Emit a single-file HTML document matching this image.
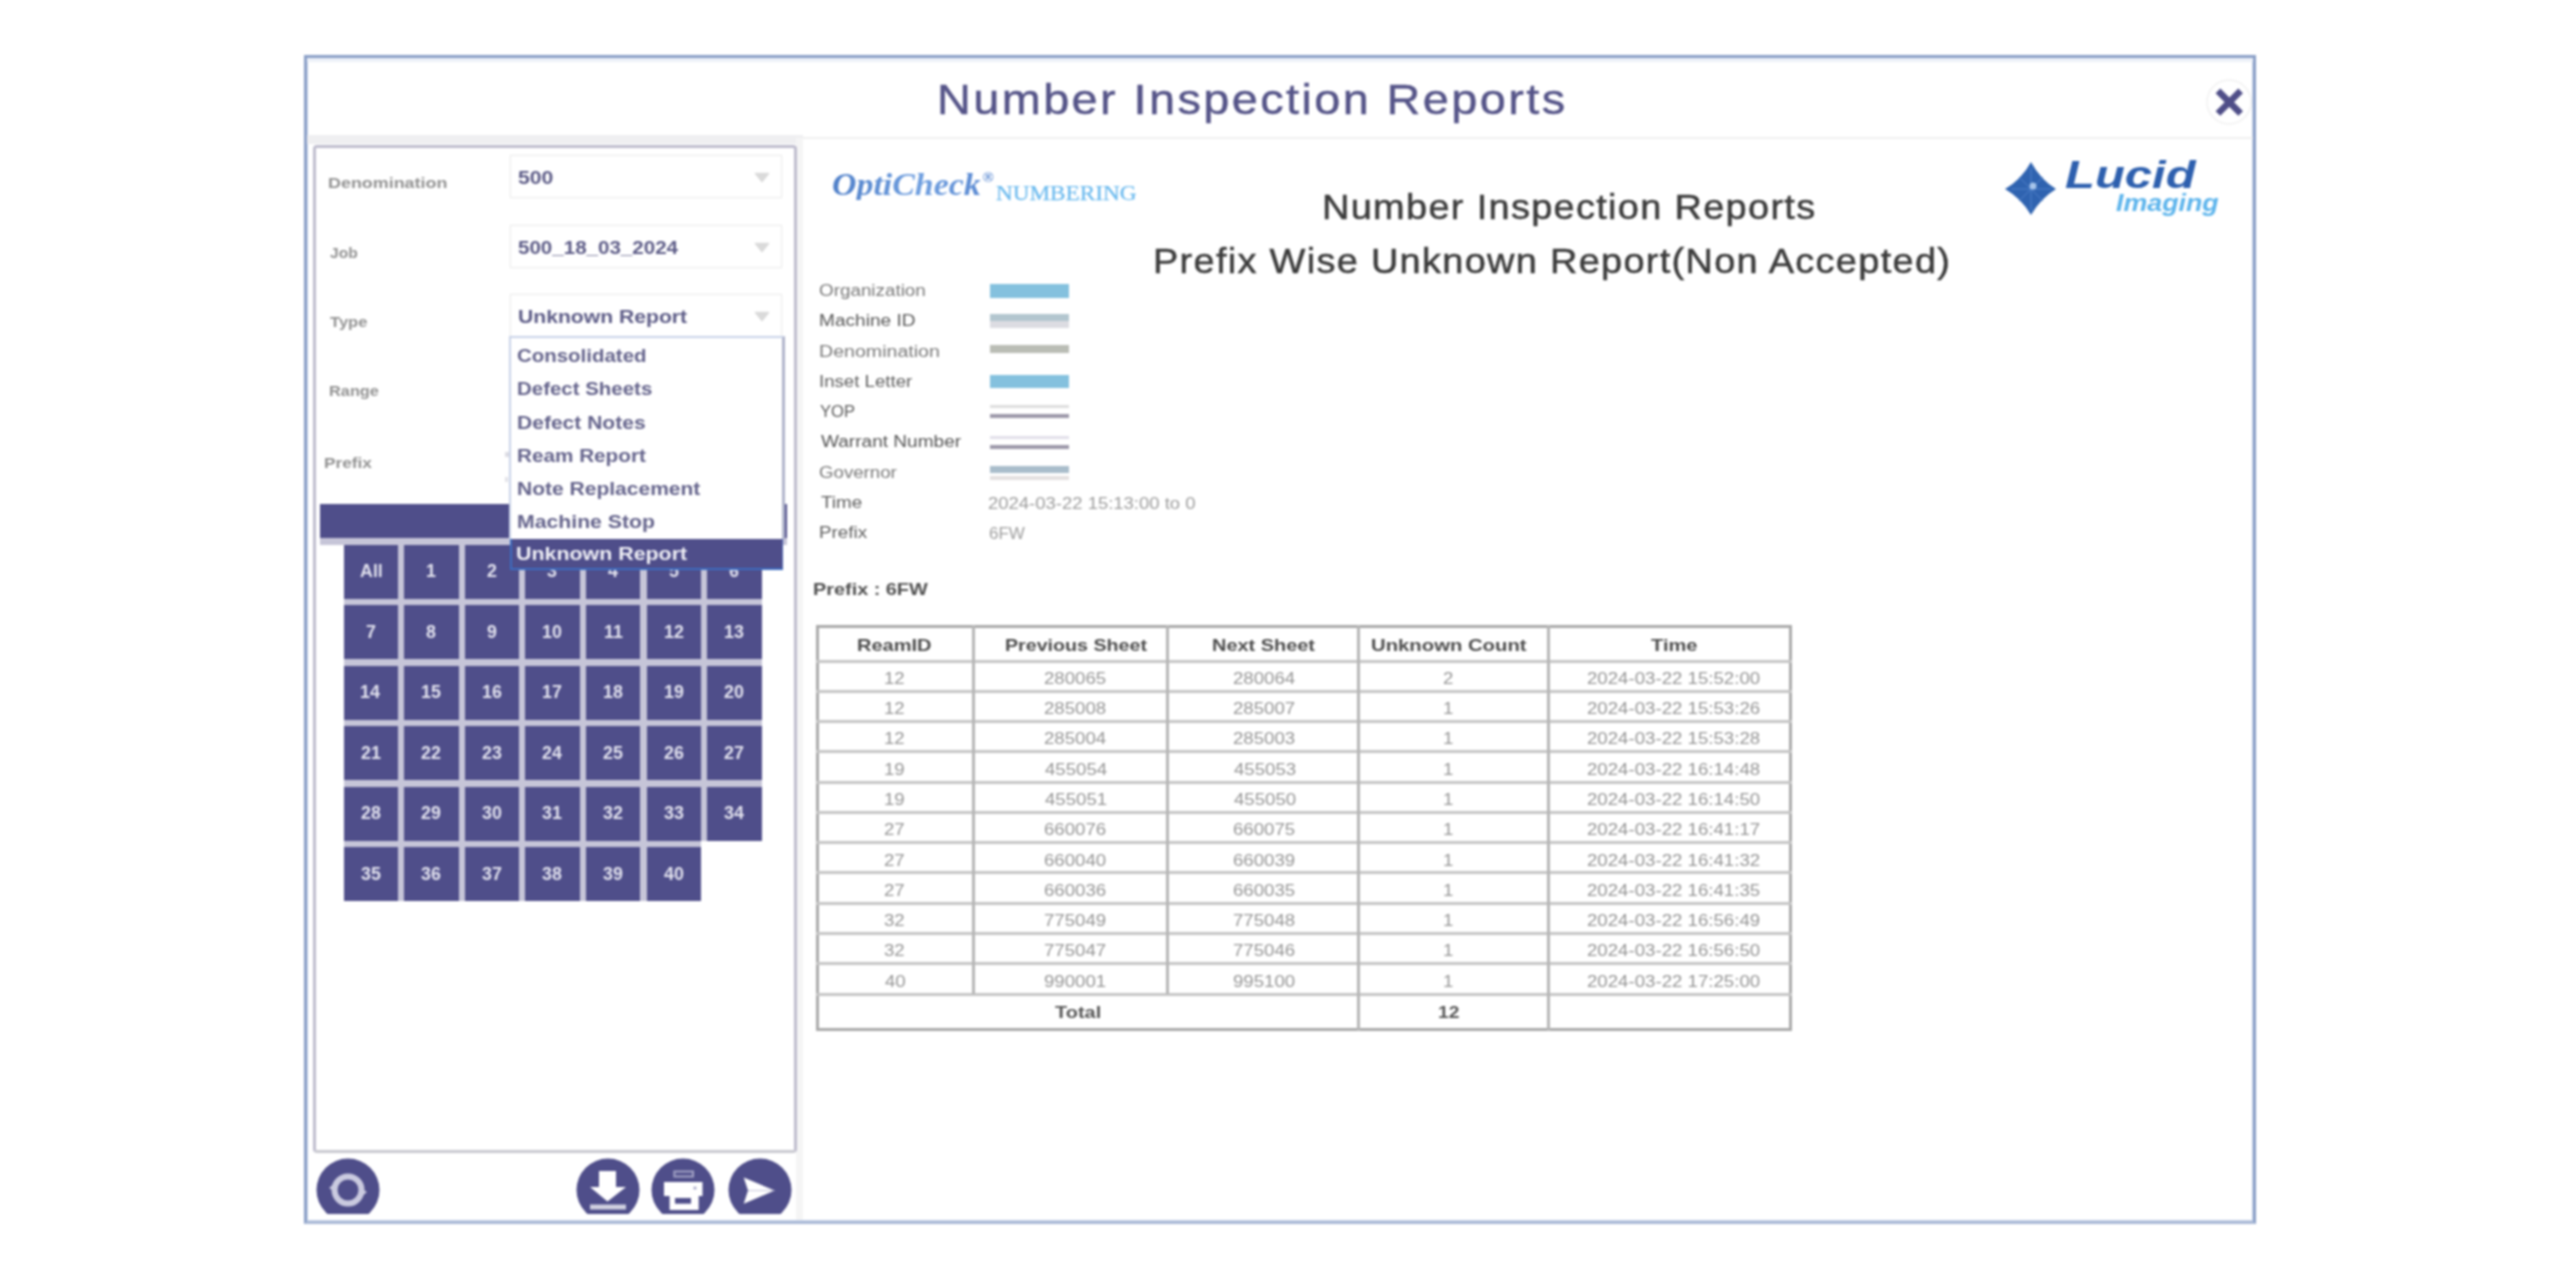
<!DOCTYPE html>
<html><head><meta charset="utf-8"><title>Number Inspection Reports</title>
<style>
html,body{margin:0;padding:0;background:#fff;width:2560px;height:1280px;overflow:hidden;font-family:"Liberation Sans",sans-serif;}
.t{position:absolute;white-space:nowrap;}
.r{position:absolute;box-sizing:border-box;}
svg{position:absolute;}
</style></head><body><div id="pg" style="position:absolute;left:0;top:0;width:2560px;height:1280px;filter:blur(1px);">
<div class="r" style="left:304px;top:55px;width:1952px;height:1169px;border:3.5px solid #8a9fc7;border-bottom-color:#aab9d6;box-shadow:inset 0 0 0 1px #c8d4ea;background:#fff;"></div>
<div class="r" style="left:307px;top:58px;width:1946px;height:4px;background:#edf1f8;"></div>
<div class="r" style="left:307px;top:136.5px;width:1946px;height:2px;background:#efefef;"></div>
<div class="r" style="left:307px;top:135px;width:496px;height:9px;background:#efeff1;"></div>
<div class="r" style="left:796px;top:138px;width:7px;height:1082px;background:#f5f5f5;"></div>
<div class="t" style="left:937.2px;top:77.6px;font-size:43px;line-height:43px;color:#555488;font-weight:normal;font-family:'Liberation Sans',sans-serif;font-style:normal;letter-spacing:2.2px;transform:scaleX(1.0900);transform-origin:0 0;-webkit-text-stroke:0.45px #555488;">Number Inspection Reports</div>
<svg style="left:2203px;top:76px" width="52" height="52" viewBox="0 0 52 52"><circle cx="26" cy="26" r="22" fill="none" stroke="#f1f1f1" stroke-width="1.5"/><path d="M17.3 17.2 L35.3 35.2 M35.3 17.2 L17.3 35.2" stroke="#4f4e88" stroke-width="6.6" stroke-linecap="square"/></svg>
<div class="r" style="left:313px;top:144.5px;width:483.5px;height:1008.5px;border:3.5px solid #bfbdce;border-bottom-color:#c9c9d0;border-radius:4px;background:#fff;"></div>
<div class="t" style="left:327.8px;top:175.3px;font-size:15px;line-height:15px;color:#929292;font-weight:bold;font-family:'Liberation Sans',sans-serif;font-style:normal;letter-spacing:0px;transform:scaleX(1.1939);transform-origin:0 0;">Denomination</div>
<div class="t" style="left:329.5px;top:245.3px;font-size:15px;line-height:15px;color:#929292;font-weight:bold;font-family:'Liberation Sans',sans-serif;font-style:normal;letter-spacing:0px;transform:scaleX(1.0385);transform-origin:0 0;">Job</div>
<div class="t" style="left:330.0px;top:314.3px;font-size:15px;line-height:15px;color:#929292;font-weight:bold;font-family:'Liberation Sans',sans-serif;font-style:normal;letter-spacing:0px;transform:scaleX(1.1029);transform-origin:0 0;">Type</div>
<div class="t" style="left:328.9px;top:383.3px;font-size:15px;line-height:15px;color:#929292;font-weight:bold;font-family:'Liberation Sans',sans-serif;font-style:normal;letter-spacing:0px;transform:scaleX(1.0889);transform-origin:0 0;">Range</div>
<div class="t" style="left:323.9px;top:455.3px;font-size:15px;line-height:15px;color:#929292;font-weight:bold;font-family:'Liberation Sans',sans-serif;font-style:normal;letter-spacing:0px;transform:scaleX(1.1500);transform-origin:0 0;">Prefix</div>
<div class="r" style="left:510px;top:155px;width:272px;height:43px;border:1px solid #ededed;background:#fff;box-shadow:0 0 2px #f3f3f3;"></div>
<div class="t" style="left:517.9px;top:167.9px;font-size:19px;line-height:19px;color:#5c5b86;font-weight:bold;font-family:'Liberation Sans',sans-serif;font-style:normal;letter-spacing:0px;transform:scaleX(1.1167);transform-origin:0 0;">500</div>
<svg style="left:754px;top:172px" width="16" height="11" viewBox="0 0 16 11"><path d="M1.5 1.5 L14.5 1.5 L8 9.5 Z" fill="#dadada" stroke="#dadada" stroke-width="1.5" stroke-linejoin="round"/></svg>
<div class="r" style="left:510px;top:225px;width:272px;height:43px;border:1px solid #ededed;background:#fff;box-shadow:0 0 2px #f3f3f3;"></div>
<div class="t" style="left:517.9px;top:237.9px;font-size:19px;line-height:19px;color:#5c5b86;font-weight:bold;font-family:'Liberation Sans',sans-serif;font-style:normal;letter-spacing:0px;transform:scaleX(1.0816);transform-origin:0 0;">500_18_03_2024</div>
<svg style="left:754px;top:242px" width="16" height="11" viewBox="0 0 16 11"><path d="M1.5 1.5 L14.5 1.5 L8 9.5 Z" fill="#dadada" stroke="#dadada" stroke-width="1.5" stroke-linejoin="round"/></svg>
<div class="r" style="left:510px;top:294px;width:272px;height:43px;border:1px solid #ededed;background:#fff;box-shadow:0 0 2px #f3f3f3;"></div>
<div class="t" style="left:517.9px;top:306.9px;font-size:19px;line-height:19px;color:#5c5b86;font-weight:bold;font-family:'Liberation Sans',sans-serif;font-style:normal;letter-spacing:0px;transform:scaleX(1.1126);transform-origin:0 0;">Unknown Report</div>
<svg style="left:754px;top:311px" width="16" height="11" viewBox="0 0 16 11"><path d="M1.5 1.5 L14.5 1.5 L8 9.5 Z" fill="#dadada" stroke="#dadada" stroke-width="1.5" stroke-linejoin="round"/></svg>
<div class="r" style="left:505px;top:452px;width:4px;height:5px;background:#dcdce4;"></div>
<div class="r" style="left:505px;top:477px;width:3px;height:5px;background:#e2e2e8;"></div>
<div class="r" style="left:320px;top:504px;width:467px;height:34px;background:#4f4e8a;"></div>
<div class="r" style="left:320px;top:538px;width:467px;height:6.5px;background:#c6c5d8;"></div>
<div class="r" style="left:343.5px;top:538px;width:418.1px;height:302.70000000000005px;background:#c6c5d8;"></div>
<div class="r" style="left:343.5px;top:839.7px;width:357.5px;height:61.55px;background:#c6c5d8;"></div>
<div class="r" style="left:343.5px;top:544.5px;width:54.5px;height:54px;background:#4f4e8a;"></div>
<div class="t" style="left:359.5px;top:563.2px;font-size:17.5px;line-height:17.5px;color:#e2e2ee;font-weight:bold;font-family:'Liberation Sans',sans-serif;font-style:normal;letter-spacing:0px;transform:scaleX(1.0200);transform-origin:0 0;">All</div>
<div class="r" style="left:404.1px;top:544.5px;width:54.5px;height:54px;background:#4f4e8a;"></div>
<div class="t" style="left:426.2px;top:563.2px;font-size:17.5px;line-height:17.5px;color:#e2e2ee;font-weight:bold;font-family:'Liberation Sans',sans-serif;font-style:normal;letter-spacing:0px;transform:scaleX(1.0200);transform-origin:0 0;">1</div>
<div class="r" style="left:464.7px;top:544.5px;width:54.5px;height:54px;background:#4f4e8a;"></div>
<div class="t" style="left:486.8px;top:563.2px;font-size:17.5px;line-height:17.5px;color:#e2e2ee;font-weight:bold;font-family:'Liberation Sans',sans-serif;font-style:normal;letter-spacing:0px;transform:scaleX(1.0200);transform-origin:0 0;">2</div>
<div class="r" style="left:525.3px;top:544.5px;width:54.5px;height:54px;background:#4f4e8a;"></div>
<div class="t" style="left:547.4px;top:563.2px;font-size:17.5px;line-height:17.5px;color:#e2e2ee;font-weight:bold;font-family:'Liberation Sans',sans-serif;font-style:normal;letter-spacing:0px;transform:scaleX(1.0200);transform-origin:0 0;">3</div>
<div class="r" style="left:585.9px;top:544.5px;width:54.5px;height:54px;background:#4f4e8a;"></div>
<div class="t" style="left:608.0px;top:563.2px;font-size:17.5px;line-height:17.5px;color:#e2e2ee;font-weight:bold;font-family:'Liberation Sans',sans-serif;font-style:normal;letter-spacing:0px;transform:scaleX(1.0200);transform-origin:0 0;">4</div>
<div class="r" style="left:646.5px;top:544.5px;width:54.5px;height:54px;background:#4f4e8a;"></div>
<div class="t" style="left:668.6px;top:563.2px;font-size:17.5px;line-height:17.5px;color:#e2e2ee;font-weight:bold;font-family:'Liberation Sans',sans-serif;font-style:normal;letter-spacing:0px;transform:scaleX(1.0200);transform-origin:0 0;">5</div>
<div class="r" style="left:707.1px;top:544.5px;width:54.5px;height:54px;background:#4f4e8a;"></div>
<div class="t" style="left:729.2px;top:563.2px;font-size:17.5px;line-height:17.5px;color:#e2e2ee;font-weight:bold;font-family:'Liberation Sans',sans-serif;font-style:normal;letter-spacing:0px;transform:scaleX(1.0200);transform-origin:0 0;">6</div>
<div class="r" style="left:343.5px;top:605.0px;width:54.5px;height:54px;background:#4f4e8a;"></div>
<div class="t" style="left:365.6px;top:623.7px;font-size:17.5px;line-height:17.5px;color:#e2e2ee;font-weight:bold;font-family:'Liberation Sans',sans-serif;font-style:normal;letter-spacing:0px;transform:scaleX(1.0200);transform-origin:0 0;">7</div>
<div class="r" style="left:404.1px;top:605.0px;width:54.5px;height:54px;background:#4f4e8a;"></div>
<div class="t" style="left:426.2px;top:623.7px;font-size:17.5px;line-height:17.5px;color:#e2e2ee;font-weight:bold;font-family:'Liberation Sans',sans-serif;font-style:normal;letter-spacing:0px;transform:scaleX(1.0200);transform-origin:0 0;">8</div>
<div class="r" style="left:464.7px;top:605.0px;width:54.5px;height:54px;background:#4f4e8a;"></div>
<div class="t" style="left:486.8px;top:623.7px;font-size:17.5px;line-height:17.5px;color:#e2e2ee;font-weight:bold;font-family:'Liberation Sans',sans-serif;font-style:normal;letter-spacing:0px;transform:scaleX(1.0200);transform-origin:0 0;">9</div>
<div class="r" style="left:525.3px;top:605.0px;width:54.5px;height:54px;background:#4f4e8a;"></div>
<div class="t" style="left:542.3px;top:623.7px;font-size:17.5px;line-height:17.5px;color:#e2e2ee;font-weight:bold;font-family:'Liberation Sans',sans-serif;font-style:normal;letter-spacing:0px;transform:scaleX(1.0200);transform-origin:0 0;">10</div>
<div class="r" style="left:585.9px;top:605.0px;width:54.5px;height:54px;background:#4f4e8a;"></div>
<div class="t" style="left:603.5px;top:623.7px;font-size:17.5px;line-height:17.5px;color:#e2e2ee;font-weight:bold;font-family:'Liberation Sans',sans-serif;font-style:normal;letter-spacing:0px;transform:scaleX(1.0200);transform-origin:0 0;">11</div>
<div class="r" style="left:646.5px;top:605.0px;width:54.5px;height:54px;background:#4f4e8a;"></div>
<div class="t" style="left:663.5px;top:623.7px;font-size:17.5px;line-height:17.5px;color:#e2e2ee;font-weight:bold;font-family:'Liberation Sans',sans-serif;font-style:normal;letter-spacing:0px;transform:scaleX(1.0200);transform-origin:0 0;">12</div>
<div class="r" style="left:707.1px;top:605.0px;width:54.5px;height:54px;background:#4f4e8a;"></div>
<div class="t" style="left:724.1px;top:623.7px;font-size:17.5px;line-height:17.5px;color:#e2e2ee;font-weight:bold;font-family:'Liberation Sans',sans-serif;font-style:normal;letter-spacing:0px;transform:scaleX(1.0200);transform-origin:0 0;">13</div>
<div class="r" style="left:343.5px;top:665.6px;width:54.5px;height:54px;background:#4f4e8a;"></div>
<div class="t" style="left:360.0px;top:684.3px;font-size:17.5px;line-height:17.5px;color:#e2e2ee;font-weight:bold;font-family:'Liberation Sans',sans-serif;font-style:normal;letter-spacing:0px;transform:scaleX(1.0200);transform-origin:0 0;">14</div>
<div class="r" style="left:404.1px;top:665.6px;width:54.5px;height:54px;background:#4f4e8a;"></div>
<div class="t" style="left:421.2px;top:684.3px;font-size:17.5px;line-height:17.5px;color:#e2e2ee;font-weight:bold;font-family:'Liberation Sans',sans-serif;font-style:normal;letter-spacing:0px;transform:scaleX(1.0200);transform-origin:0 0;">15</div>
<div class="r" style="left:464.7px;top:665.6px;width:54.5px;height:54px;background:#4f4e8a;"></div>
<div class="t" style="left:481.8px;top:684.3px;font-size:17.5px;line-height:17.5px;color:#e2e2ee;font-weight:bold;font-family:'Liberation Sans',sans-serif;font-style:normal;letter-spacing:0px;transform:scaleX(1.0200);transform-origin:0 0;">16</div>
<div class="r" style="left:525.3px;top:665.6px;width:54.5px;height:54px;background:#4f4e8a;"></div>
<div class="t" style="left:542.3px;top:684.3px;font-size:17.5px;line-height:17.5px;color:#e2e2ee;font-weight:bold;font-family:'Liberation Sans',sans-serif;font-style:normal;letter-spacing:0px;transform:scaleX(1.0200);transform-origin:0 0;">17</div>
<div class="r" style="left:585.9px;top:665.6px;width:54.5px;height:54px;background:#4f4e8a;"></div>
<div class="t" style="left:602.9px;top:684.3px;font-size:17.5px;line-height:17.5px;color:#e2e2ee;font-weight:bold;font-family:'Liberation Sans',sans-serif;font-style:normal;letter-spacing:0px;transform:scaleX(1.0200);transform-origin:0 0;">18</div>
<div class="r" style="left:646.5px;top:665.6px;width:54.5px;height:54px;background:#4f4e8a;"></div>
<div class="t" style="left:663.5px;top:684.3px;font-size:17.5px;line-height:17.5px;color:#e2e2ee;font-weight:bold;font-family:'Liberation Sans',sans-serif;font-style:normal;letter-spacing:0px;transform:scaleX(1.0200);transform-origin:0 0;">19</div>
<div class="r" style="left:707.1px;top:665.6px;width:54.5px;height:54px;background:#4f4e8a;"></div>
<div class="t" style="left:724.1px;top:684.3px;font-size:17.5px;line-height:17.5px;color:#e2e2ee;font-weight:bold;font-family:'Liberation Sans',sans-serif;font-style:normal;letter-spacing:0px;transform:scaleX(1.0200);transform-origin:0 0;">20</div>
<div class="r" style="left:343.5px;top:726.1px;width:54.5px;height:54px;background:#4f4e8a;"></div>
<div class="t" style="left:360.6px;top:744.8px;font-size:17.5px;line-height:17.5px;color:#e2e2ee;font-weight:bold;font-family:'Liberation Sans',sans-serif;font-style:normal;letter-spacing:0px;transform:scaleX(1.0200);transform-origin:0 0;">21</div>
<div class="r" style="left:404.1px;top:726.1px;width:54.5px;height:54px;background:#4f4e8a;"></div>
<div class="t" style="left:421.2px;top:744.8px;font-size:17.5px;line-height:17.5px;color:#e2e2ee;font-weight:bold;font-family:'Liberation Sans',sans-serif;font-style:normal;letter-spacing:0px;transform:scaleX(1.0200);transform-origin:0 0;">22</div>
<div class="r" style="left:464.7px;top:726.1px;width:54.5px;height:54px;background:#4f4e8a;"></div>
<div class="t" style="left:481.8px;top:744.8px;font-size:17.5px;line-height:17.5px;color:#e2e2ee;font-weight:bold;font-family:'Liberation Sans',sans-serif;font-style:normal;letter-spacing:0px;transform:scaleX(1.0200);transform-origin:0 0;">23</div>
<div class="r" style="left:525.3px;top:726.1px;width:54.5px;height:54px;background:#4f4e8a;"></div>
<div class="t" style="left:541.8px;top:744.8px;font-size:17.5px;line-height:17.5px;color:#e2e2ee;font-weight:bold;font-family:'Liberation Sans',sans-serif;font-style:normal;letter-spacing:0px;transform:scaleX(1.0200);transform-origin:0 0;">24</div>
<div class="r" style="left:585.9px;top:726.1px;width:54.5px;height:54px;background:#4f4e8a;"></div>
<div class="t" style="left:602.9px;top:744.8px;font-size:17.5px;line-height:17.5px;color:#e2e2ee;font-weight:bold;font-family:'Liberation Sans',sans-serif;font-style:normal;letter-spacing:0px;transform:scaleX(1.0200);transform-origin:0 0;">25</div>
<div class="r" style="left:646.5px;top:726.1px;width:54.5px;height:54px;background:#4f4e8a;"></div>
<div class="t" style="left:663.5px;top:744.8px;font-size:17.5px;line-height:17.5px;color:#e2e2ee;font-weight:bold;font-family:'Liberation Sans',sans-serif;font-style:normal;letter-spacing:0px;transform:scaleX(1.0200);transform-origin:0 0;">26</div>
<div class="r" style="left:707.1px;top:726.1px;width:54.5px;height:54px;background:#4f4e8a;"></div>
<div class="t" style="left:724.1px;top:744.8px;font-size:17.5px;line-height:17.5px;color:#e2e2ee;font-weight:bold;font-family:'Liberation Sans',sans-serif;font-style:normal;letter-spacing:0px;transform:scaleX(1.0200);transform-origin:0 0;">27</div>
<div class="r" style="left:343.5px;top:786.7px;width:54.5px;height:54px;background:#4f4e8a;"></div>
<div class="t" style="left:360.6px;top:805.4px;font-size:17.5px;line-height:17.5px;color:#e2e2ee;font-weight:bold;font-family:'Liberation Sans',sans-serif;font-style:normal;letter-spacing:0px;transform:scaleX(1.0200);transform-origin:0 0;">28</div>
<div class="r" style="left:404.1px;top:786.7px;width:54.5px;height:54px;background:#4f4e8a;"></div>
<div class="t" style="left:421.2px;top:805.4px;font-size:17.5px;line-height:17.5px;color:#e2e2ee;font-weight:bold;font-family:'Liberation Sans',sans-serif;font-style:normal;letter-spacing:0px;transform:scaleX(1.0200);transform-origin:0 0;">29</div>
<div class="r" style="left:464.7px;top:786.7px;width:54.5px;height:54px;background:#4f4e8a;"></div>
<div class="t" style="left:481.8px;top:805.4px;font-size:17.5px;line-height:17.5px;color:#e2e2ee;font-weight:bold;font-family:'Liberation Sans',sans-serif;font-style:normal;letter-spacing:0px;transform:scaleX(1.0200);transform-origin:0 0;">30</div>
<div class="r" style="left:525.3px;top:786.7px;width:54.5px;height:54px;background:#4f4e8a;"></div>
<div class="t" style="left:542.3px;top:805.4px;font-size:17.5px;line-height:17.5px;color:#e2e2ee;font-weight:bold;font-family:'Liberation Sans',sans-serif;font-style:normal;letter-spacing:0px;transform:scaleX(1.0200);transform-origin:0 0;">31</div>
<div class="r" style="left:585.9px;top:786.7px;width:54.5px;height:54px;background:#4f4e8a;"></div>
<div class="t" style="left:602.9px;top:805.4px;font-size:17.5px;line-height:17.5px;color:#e2e2ee;font-weight:bold;font-family:'Liberation Sans',sans-serif;font-style:normal;letter-spacing:0px;transform:scaleX(1.0200);transform-origin:0 0;">32</div>
<div class="r" style="left:646.5px;top:786.7px;width:54.5px;height:54px;background:#4f4e8a;"></div>
<div class="t" style="left:663.5px;top:805.4px;font-size:17.5px;line-height:17.5px;color:#e2e2ee;font-weight:bold;font-family:'Liberation Sans',sans-serif;font-style:normal;letter-spacing:0px;transform:scaleX(1.0200);transform-origin:0 0;">33</div>
<div class="r" style="left:707.1px;top:786.7px;width:54.5px;height:54px;background:#4f4e8a;"></div>
<div class="t" style="left:723.6px;top:805.4px;font-size:17.5px;line-height:17.5px;color:#e2e2ee;font-weight:bold;font-family:'Liberation Sans',sans-serif;font-style:normal;letter-spacing:0px;transform:scaleX(1.0200);transform-origin:0 0;">34</div>
<div class="r" style="left:343.5px;top:847.2px;width:54.5px;height:54px;background:#4f4e8a;"></div>
<div class="t" style="left:360.6px;top:865.9px;font-size:17.5px;line-height:17.5px;color:#e2e2ee;font-weight:bold;font-family:'Liberation Sans',sans-serif;font-style:normal;letter-spacing:0px;transform:scaleX(1.0200);transform-origin:0 0;">35</div>
<div class="r" style="left:404.1px;top:847.2px;width:54.5px;height:54px;background:#4f4e8a;"></div>
<div class="t" style="left:421.2px;top:865.9px;font-size:17.5px;line-height:17.5px;color:#e2e2ee;font-weight:bold;font-family:'Liberation Sans',sans-serif;font-style:normal;letter-spacing:0px;transform:scaleX(1.0200);transform-origin:0 0;">36</div>
<div class="r" style="left:464.7px;top:847.2px;width:54.5px;height:54px;background:#4f4e8a;"></div>
<div class="t" style="left:481.8px;top:865.9px;font-size:17.5px;line-height:17.5px;color:#e2e2ee;font-weight:bold;font-family:'Liberation Sans',sans-serif;font-style:normal;letter-spacing:0px;transform:scaleX(1.0200);transform-origin:0 0;">37</div>
<div class="r" style="left:525.3px;top:847.2px;width:54.5px;height:54px;background:#4f4e8a;"></div>
<div class="t" style="left:542.3px;top:865.9px;font-size:17.5px;line-height:17.5px;color:#e2e2ee;font-weight:bold;font-family:'Liberation Sans',sans-serif;font-style:normal;letter-spacing:0px;transform:scaleX(1.0200);transform-origin:0 0;">38</div>
<div class="r" style="left:585.9px;top:847.2px;width:54.5px;height:54px;background:#4f4e8a;"></div>
<div class="t" style="left:602.9px;top:865.9px;font-size:17.5px;line-height:17.5px;color:#e2e2ee;font-weight:bold;font-family:'Liberation Sans',sans-serif;font-style:normal;letter-spacing:0px;transform:scaleX(1.0200);transform-origin:0 0;">39</div>
<div class="r" style="left:646.5px;top:847.2px;width:54.5px;height:54px;background:#4f4e8a;"></div>
<div class="t" style="left:664.1px;top:865.9px;font-size:17.5px;line-height:17.5px;color:#e2e2ee;font-weight:bold;font-family:'Liberation Sans',sans-serif;font-style:normal;letter-spacing:0px;transform:scaleX(1.0200);transform-origin:0 0;">40</div>
<div class="r" style="left:509px;top:336px;width:276px;height:203px;border:2px solid #c9d3e8;border-right:3px solid #b0b4ca;border-bottom:none;background:#fff;"></div>
<div class="t" style="left:516.9px;top:346.1px;font-size:19px;line-height:19px;color:#64638b;font-weight:bold;font-family:'Liberation Sans',sans-serif;font-style:normal;letter-spacing:0px;transform:scaleX(1.0763);transform-origin:0 0;">Consolidated</div>
<div class="t" style="left:516.9px;top:379.3px;font-size:19px;line-height:19px;color:#64638b;font-weight:bold;font-family:'Liberation Sans',sans-serif;font-style:normal;letter-spacing:0px;transform:scaleX(1.0766);transform-origin:0 0;">Defect Sheets</div>
<div class="t" style="left:516.9px;top:412.5px;font-size:19px;line-height:19px;color:#64638b;font-weight:bold;font-family:'Liberation Sans',sans-serif;font-style:normal;letter-spacing:0px;transform:scaleX(1.1075);transform-origin:0 0;">Defect Notes</div>
<div class="t" style="left:516.9px;top:445.7px;font-size:19px;line-height:19px;color:#64638b;font-weight:bold;font-family:'Liberation Sans',sans-serif;font-style:normal;letter-spacing:0px;transform:scaleX(1.0897);transform-origin:0 0;">Ream Report</div>
<div class="t" style="left:516.9px;top:478.9px;font-size:19px;line-height:19px;color:#64638b;font-weight:bold;font-family:'Liberation Sans',sans-serif;font-style:normal;letter-spacing:0px;transform:scaleX(1.1061);transform-origin:0 0;">Note Replacement</div>
<div class="t" style="left:516.9px;top:512.1px;font-size:19px;line-height:19px;color:#64638b;font-weight:bold;font-family:'Liberation Sans',sans-serif;font-style:normal;letter-spacing:0px;transform:scaleX(1.1168);transform-origin:0 0;">Machine Stop</div>
<div class="r" style="left:509.5px;top:538.5px;width:273px;height:31px;background:#4f4e8a;border-left:2px solid #3d6cc0;border-bottom:2.5px solid #3d6cc0;border-right:1px solid #4a62b0;"></div>
<div class="t" style="left:515.9px;top:544.4px;font-size:19px;line-height:19px;color:#f0f0f6;font-weight:bold;font-family:'Liberation Sans',sans-serif;font-style:normal;letter-spacing:0px;transform:scaleX(1.1258);transform-origin:0 0;">Unknown Report</div>
<svg style="left:316px;top:1158px" width="64" height="58" viewBox="0 0 64 58"><clipPath id="c348"><rect x="0" y="0" width="64" height="56"/></clipPath><circle cx="32" cy="32" r="31.5" fill="#4f4e8a" clip-path="url(#c348)"/><circle cx="32" cy="32" r="13.5" fill="none" stroke="#cacadf" stroke-width="6"/><path d="M13 30 L20 24 L21 35 Z" fill="#cacadf"/><path d="M51 34 L44 40 L43 29 Z" fill="#cacadf"/></svg>
<svg style="left:576px;top:1158px" width="64" height="58" viewBox="0 0 64 58"><clipPath id="c608"><rect x="0" y="0" width="64" height="56"/></clipPath><circle cx="32" cy="32" r="31.5" fill="#4f4e8a" clip-path="url(#c608)"/><path d="M23 13 H40 V29 H50 L31.5 43.5 L14 29 H23 Z" fill="#fff"/><rect x="14" y="46.5" width="36" height="5" fill="#d0d0e0"/></svg>
<svg style="left:651px;top:1158px" width="64" height="58" viewBox="0 0 64 58"><clipPath id="c683"><rect x="0" y="0" width="64" height="56"/></clipPath><circle cx="32" cy="32" r="31.5" fill="#4f4e8a" clip-path="url(#c683)"/><rect x="23.4" y="13.5" width="18.6" height="5" fill="none" stroke="#a4a4c6" stroke-width="2"/><path d="M13 24 H51.5 V38 H47.7 V52 H18.6 V38 H13 Z" fill="#fff"/><rect x="24" y="40" width="16" height="5.7" fill="#4f4e8a"/><circle cx="44" cy="30" r="1.6" fill="#a4a4c6"/></svg>
<svg style="left:728px;top:1158px" width="64" height="58" viewBox="0 0 64 58"><clipPath id="c760"><rect x="0" y="0" width="64" height="56"/></clipPath><circle cx="32" cy="32" r="31.5" fill="#4f4e8a" clip-path="url(#c760)"/><path d="M15.7 19.5 L46.6 32.5 L15.7 45.7 L20 32.5 Z" fill="#fff"/><path d="M20 32.5 L46.6 32.5" stroke="#c8c8dc" stroke-width="1"/></svg>
<div class="t" style="left:831.9px;top:168.5px;font-size:31px;line-height:31px;color:#5b8ad2;font-weight:bold;font-family:'Liberation Serif',sans-serif;font-style:italic;letter-spacing:0px;transform:scaleX(1.0926);transform-origin:0 0;background:linear-gradient(90deg,#4f7fc8,#6f9fe0 60%,#5b8ad2);-webkit-background-clip:text;background-clip:text;-webkit-text-fill-color:transparent;">OptiCheck</div>
<div class="t" style="left:982.5px;top:169.9px;font-size:15px;line-height:15px;color:#5b8ad2;font-weight:bold;font-family:'Liberation Serif',sans-serif;font-style:normal;letter-spacing:0px;">&reg;</div>
<div class="t" style="left:996.4px;top:182.9px;font-size:21px;line-height:21px;color:#6ab9ee;font-weight:normal;font-family:'Liberation Serif',sans-serif;font-style:normal;letter-spacing:0px;transform:scaleX(1.1040);transform-origin:0 0;-webkit-text-stroke:0.25px #6ab9ee;">NUMBERING</div>
<svg style="left:2003px;top:160px" width="56" height="58" viewBox="0 0 56 58"><path d="M28 2 Q37.5 19.5 53 29 Q37.5 38.5 28 55 Q18.5 38.5 2 29 Q18.5 19.5 28 2 Z" fill="#2f63b0"/><path d="M28 8 L28 50 M8 29 L48 29 M16 17 L40 41 M40 17 L16 41" stroke="#4f80c8" stroke-width="1"/><circle cx="30" cy="26" r="3.5" fill="#a6c4ea"/></svg>
<div class="t" style="left:2064.7px;top:156.4px;font-size:38.5px;line-height:38.5px;color:#2d5fae;font-weight:bold;font-family:'Liberation Sans',sans-serif;font-style:italic;letter-spacing:0px;transform:scaleX(1.2718);transform-origin:0 0;">Lucid</div>
<div class="t" style="left:2116.0px;top:191.5px;font-size:23px;line-height:23px;color:#5cb4ec;font-weight:bold;font-family:'Liberation Sans',sans-serif;font-style:italic;letter-spacing:0px;transform:scaleX(1.1648);transform-origin:0 0;">Imaging</div>
<div class="t" style="left:1321.7px;top:189.4px;font-size:35px;line-height:35px;color:#3b3b3b;font-weight:normal;font-family:'Liberation Sans',sans-serif;font-style:normal;letter-spacing:1.2px;transform:scaleX(1.0843);transform-origin:0 0;-webkit-text-stroke:0.5px #3b3b3b;">Number Inspection Reports</div>
<div class="t" style="left:1152.7px;top:243.4px;font-size:35px;line-height:35px;color:#3b3b3b;font-weight:normal;font-family:'Liberation Sans',sans-serif;font-style:normal;letter-spacing:1.2px;transform:scaleX(1.0836);transform-origin:0 0;-webkit-text-stroke:0.5px #3b3b3b;">Prefix Wise Unknown Report(Non Accepted)</div>
<div class="t" style="left:819.3px;top:283.0px;font-size:16px;line-height:16px;color:#7a7a7a;font-weight:normal;font-family:'Liberation Sans',sans-serif;font-style:normal;letter-spacing:0px;transform:scaleX(1.1775);transform-origin:0 0;">Organization</div>
<div class="t" style="left:819.3px;top:313.2px;font-size:16px;line-height:16px;color:#585858;font-weight:normal;font-family:'Liberation Sans',sans-serif;font-style:normal;letter-spacing:0px;transform:scaleX(1.1924);transform-origin:0 0;">Machine ID</div>
<div class="t" style="left:819.3px;top:343.5px;font-size:16px;line-height:16px;color:#7a7a7a;font-weight:normal;font-family:'Liberation Sans',sans-serif;font-style:normal;letter-spacing:0px;transform:scaleX(1.2247);transform-origin:0 0;">Denomination</div>
<div class="t" style="left:819.3px;top:373.7px;font-size:16px;line-height:16px;color:#606060;font-weight:normal;font-family:'Liberation Sans',sans-serif;font-style:normal;letter-spacing:0px;transform:scaleX(1.1646);transform-origin:0 0;">Inset Letter</div>
<div class="t" style="left:819.5px;top:404.0px;font-size:16px;line-height:16px;color:#5a5a5a;font-weight:normal;font-family:'Liberation Sans',sans-serif;font-style:normal;letter-spacing:0px;transform:scaleX(1.0375);transform-origin:0 0;">YOP</div>
<div class="t" style="left:820.5px;top:434.2px;font-size:16px;line-height:16px;color:#555555;font-weight:normal;font-family:'Liberation Sans',sans-serif;font-style:normal;letter-spacing:0px;transform:scaleX(1.1907);transform-origin:0 0;">Warrant Number</div>
<div class="t" style="left:819.3px;top:464.5px;font-size:16px;line-height:16px;color:#7a7a7a;font-weight:normal;font-family:'Liberation Sans',sans-serif;font-style:normal;letter-spacing:0px;transform:scaleX(1.1667);transform-origin:0 0;">Governor</div>
<div class="t" style="left:820.5px;top:494.7px;font-size:16px;line-height:16px;color:#5e5e5e;font-weight:normal;font-family:'Liberation Sans',sans-serif;font-style:normal;letter-spacing:0px;transform:scaleX(1.1765);transform-origin:0 0;">Time</div>
<div class="t" style="left:819.3px;top:525.0px;font-size:16px;line-height:16px;color:#5e5e5e;font-weight:normal;font-family:'Liberation Sans',sans-serif;font-style:normal;letter-spacing:0px;transform:scaleX(1.1750);transform-origin:0 0;">Prefix</div>
<div class="r" style="left:990px;top:283.5px;width:79px;height:14px;background:#84c1de;"></div>
<div class="r" style="left:990px;top:314px;width:79px;height:7px;background:#b3c6cf;"></div>
<div class="r" style="left:990px;top:321px;width:79px;height:7px;background:#dcdce2;"></div>
<div class="r" style="left:990px;top:344.5px;width:79px;height:8px;background:#babdb5;"></div>
<div class="r" style="left:990px;top:375px;width:79px;height:13px;background:#84c1de;"></div>
<div class="r" style="left:990px;top:404.5px;width:79px;height:3px;background:#dedede;"></div>
<div class="r" style="left:990px;top:414px;width:79px;height:4px;background:#9d99aa;"></div>
<div class="r" style="left:990px;top:435.5px;width:79px;height:3px;background:#e2e0ea;"></div>
<div class="r" style="left:990px;top:444.5px;width:79px;height:4px;background:#9d99aa;"></div>
<div class="r" style="left:990px;top:466px;width:79px;height:7px;background:#a9bdcb;"></div>
<div class="r" style="left:990px;top:475.5px;width:79px;height:4px;background:#e4e0e0;"></div>
<div class="t" style="left:988.4px;top:494.5px;font-size:16.5px;line-height:16.5px;color:#9d9d9d;font-weight:normal;font-family:'Liberation Sans',sans-serif;font-style:normal;letter-spacing:0px;transform:scaleX(1.1196);transform-origin:0 0;">2024-03-22 15:13:00 to 0</div>
<div class="t" style="left:988.5px;top:524.5px;font-size:16.5px;line-height:16.5px;color:#9d9d9d;font-weight:normal;font-family:'Liberation Sans',sans-serif;font-style:normal;letter-spacing:0px;transform:scaleX(1.0294);transform-origin:0 0;">6FW</div>
<div class="t" style="left:812.5px;top:580.6px;font-size:17px;line-height:17px;color:#4f4f4f;font-weight:bold;font-family:'Liberation Sans',sans-serif;font-style:normal;letter-spacing:0px;transform:scaleX(1.1680);transform-origin:0 0;">Prefix : 6FW</div>
<div class="r" style="left:815.5px;top:625px;width:976.5px;height:406px;border:3.5px solid #aaaaaa;background:#fff;"></div>
<div class="r" style="left:815.5px;top:659.5px;width:976.5px;height:3px;background:#c6c6c6;"></div>
<div class="r" style="left:815.5px;top:689.8px;width:976.5px;height:3px;background:#c6c6c6;"></div>
<div class="r" style="left:815.5px;top:720.0px;width:976.5px;height:3px;background:#c6c6c6;"></div>
<div class="r" style="left:815.5px;top:750.3px;width:976.5px;height:3px;background:#c6c6c6;"></div>
<div class="r" style="left:815.5px;top:780.6px;width:976.5px;height:3px;background:#c6c6c6;"></div>
<div class="r" style="left:815.5px;top:810.9px;width:976.5px;height:3px;background:#c6c6c6;"></div>
<div class="r" style="left:815.5px;top:841.1px;width:976.5px;height:3px;background:#c6c6c6;"></div>
<div class="r" style="left:815.5px;top:871.4px;width:976.5px;height:3px;background:#c6c6c6;"></div>
<div class="r" style="left:815.5px;top:901.7px;width:976.5px;height:3px;background:#c6c6c6;"></div>
<div class="r" style="left:815.5px;top:931.9px;width:976.5px;height:3px;background:#c6c6c6;"></div>
<div class="r" style="left:815.5px;top:962.2px;width:976.5px;height:3px;background:#c6c6c6;"></div>
<div class="r" style="left:815.5px;top:992.5px;width:976.5px;height:3px;background:#c6c6c6;"></div>
<div class="r" style="left:971.5px;top:625px;width:3px;height:369px;background:#b6b6b6;"></div>
<div class="r" style="left:1165.5px;top:625px;width:3px;height:369px;background:#b6b6b6;"></div>
<div class="r" style="left:1356.5px;top:625px;width:3px;height:406px;background:#b6b6b6;"></div>
<div class="r" style="left:1546.5px;top:625px;width:3px;height:406px;background:#b6b6b6;"></div>
<div class="t" style="left:857.3px;top:636.6px;font-size:17px;line-height:17px;color:#4c4c4c;font-weight:bold;font-family:'Liberation Sans',sans-serif;font-style:normal;letter-spacing:0px;transform:scaleX(1.1774);transform-origin:0 0;">ReamID</div>
<div class="t" style="left:1004.7px;top:636.6px;font-size:17px;line-height:17px;color:#4c4c4c;font-weight:bold;font-family:'Liberation Sans',sans-serif;font-style:normal;letter-spacing:0px;transform:scaleX(1.1557);transform-origin:0 0;">Previous Sheet</div>
<div class="t" style="left:1212.4px;top:636.6px;font-size:17px;line-height:17px;color:#4c4c4c;font-weight:bold;font-family:'Liberation Sans',sans-serif;font-style:normal;letter-spacing:0px;transform:scaleX(1.1724);transform-origin:0 0;">Next Sheet</div>
<div class="t" style="left:1370.8px;top:636.6px;font-size:17px;line-height:17px;color:#4c4c4c;font-weight:bold;font-family:'Liberation Sans',sans-serif;font-style:normal;letter-spacing:0px;transform:scaleX(1.1938);transform-origin:0 0;">Unknown Count</div>
<div class="t" style="left:1650.5px;top:636.6px;font-size:17px;line-height:17px;color:#4c4c4c;font-weight:bold;font-family:'Liberation Sans',sans-serif;font-style:normal;letter-spacing:0px;transform:scaleX(1.1795);transform-origin:0 0;">Time</div>
<div class="t" style="left:884.3px;top:669.8px;font-size:16.5px;line-height:16.5px;color:#969696;font-weight:normal;font-family:'Liberation Sans',sans-serif;font-style:normal;letter-spacing:0px;transform:scaleX(1.1300);transform-origin:0 0;">12</div>
<div class="t" style="left:1044.4px;top:669.8px;font-size:16.5px;line-height:16.5px;color:#969696;font-weight:normal;font-family:'Liberation Sans',sans-serif;font-style:normal;letter-spacing:0px;transform:scaleX(1.1300);transform-origin:0 0;">280065</div>
<div class="t" style="left:1233.0px;top:669.8px;font-size:16.5px;line-height:16.5px;color:#969696;font-weight:normal;font-family:'Liberation Sans',sans-serif;font-style:normal;letter-spacing:0px;transform:scaleX(1.1300);transform-origin:0 0;">280064</div>
<div class="t" style="left:1443.3px;top:669.8px;font-size:16.5px;line-height:16.5px;color:#969696;font-weight:normal;font-family:'Liberation Sans',sans-serif;font-style:normal;letter-spacing:0px;transform:scaleX(1.1300);transform-origin:0 0;">2</div>
<div class="t" style="left:1586.8px;top:669.8px;font-size:16.5px;line-height:16.5px;color:#969696;font-weight:normal;font-family:'Liberation Sans',sans-serif;font-style:normal;letter-spacing:0px;transform:scaleX(1.1300);transform-origin:0 0;">2024-03-22 15:52:00</div>
<div class="t" style="left:884.3px;top:700.1px;font-size:16.5px;line-height:16.5px;color:#969696;font-weight:normal;font-family:'Liberation Sans',sans-serif;font-style:normal;letter-spacing:0px;transform:scaleX(1.1300);transform-origin:0 0;">12</div>
<div class="t" style="left:1044.4px;top:700.1px;font-size:16.5px;line-height:16.5px;color:#969696;font-weight:normal;font-family:'Liberation Sans',sans-serif;font-style:normal;letter-spacing:0px;transform:scaleX(1.1300);transform-origin:0 0;">285008</div>
<div class="t" style="left:1233.0px;top:700.1px;font-size:16.5px;line-height:16.5px;color:#969696;font-weight:normal;font-family:'Liberation Sans',sans-serif;font-style:normal;letter-spacing:0px;transform:scaleX(1.1300);transform-origin:0 0;">285007</div>
<div class="t" style="left:1443.3px;top:700.1px;font-size:16.5px;line-height:16.5px;color:#969696;font-weight:normal;font-family:'Liberation Sans',sans-serif;font-style:normal;letter-spacing:0px;transform:scaleX(1.1300);transform-origin:0 0;">1</div>
<div class="t" style="left:1586.8px;top:700.1px;font-size:16.5px;line-height:16.5px;color:#969696;font-weight:normal;font-family:'Liberation Sans',sans-serif;font-style:normal;letter-spacing:0px;transform:scaleX(1.1300);transform-origin:0 0;">2024-03-22 15:53:26</div>
<div class="t" style="left:884.3px;top:730.4px;font-size:16.5px;line-height:16.5px;color:#969696;font-weight:normal;font-family:'Liberation Sans',sans-serif;font-style:normal;letter-spacing:0px;transform:scaleX(1.1300);transform-origin:0 0;">12</div>
<div class="t" style="left:1044.4px;top:730.4px;font-size:16.5px;line-height:16.5px;color:#969696;font-weight:normal;font-family:'Liberation Sans',sans-serif;font-style:normal;letter-spacing:0px;transform:scaleX(1.1300);transform-origin:0 0;">285004</div>
<div class="t" style="left:1233.0px;top:730.4px;font-size:16.5px;line-height:16.5px;color:#969696;font-weight:normal;font-family:'Liberation Sans',sans-serif;font-style:normal;letter-spacing:0px;transform:scaleX(1.1300);transform-origin:0 0;">285003</div>
<div class="t" style="left:1443.3px;top:730.4px;font-size:16.5px;line-height:16.5px;color:#969696;font-weight:normal;font-family:'Liberation Sans',sans-serif;font-style:normal;letter-spacing:0px;transform:scaleX(1.1300);transform-origin:0 0;">1</div>
<div class="t" style="left:1586.8px;top:730.4px;font-size:16.5px;line-height:16.5px;color:#969696;font-weight:normal;font-family:'Liberation Sans',sans-serif;font-style:normal;letter-spacing:0px;transform:scaleX(1.1300);transform-origin:0 0;">2024-03-22 15:53:28</div>
<div class="t" style="left:884.3px;top:760.6px;font-size:16.5px;line-height:16.5px;color:#969696;font-weight:normal;font-family:'Liberation Sans',sans-serif;font-style:normal;letter-spacing:0px;transform:scaleX(1.1300);transform-origin:0 0;">19</div>
<div class="t" style="left:1044.9px;top:760.6px;font-size:16.5px;line-height:16.5px;color:#969696;font-weight:normal;font-family:'Liberation Sans',sans-serif;font-style:normal;letter-spacing:0px;transform:scaleX(1.1300);transform-origin:0 0;">455054</div>
<div class="t" style="left:1233.5px;top:760.6px;font-size:16.5px;line-height:16.5px;color:#969696;font-weight:normal;font-family:'Liberation Sans',sans-serif;font-style:normal;letter-spacing:0px;transform:scaleX(1.1300);transform-origin:0 0;">455053</div>
<div class="t" style="left:1443.3px;top:760.6px;font-size:16.5px;line-height:16.5px;color:#969696;font-weight:normal;font-family:'Liberation Sans',sans-serif;font-style:normal;letter-spacing:0px;transform:scaleX(1.1300);transform-origin:0 0;">1</div>
<div class="t" style="left:1586.8px;top:760.6px;font-size:16.5px;line-height:16.5px;color:#969696;font-weight:normal;font-family:'Liberation Sans',sans-serif;font-style:normal;letter-spacing:0px;transform:scaleX(1.1300);transform-origin:0 0;">2024-03-22 16:14:48</div>
<div class="t" style="left:884.3px;top:790.9px;font-size:16.5px;line-height:16.5px;color:#969696;font-weight:normal;font-family:'Liberation Sans',sans-serif;font-style:normal;letter-spacing:0px;transform:scaleX(1.1300);transform-origin:0 0;">19</div>
<div class="t" style="left:1044.9px;top:790.9px;font-size:16.5px;line-height:16.5px;color:#969696;font-weight:normal;font-family:'Liberation Sans',sans-serif;font-style:normal;letter-spacing:0px;transform:scaleX(1.1300);transform-origin:0 0;">455051</div>
<div class="t" style="left:1233.5px;top:790.9px;font-size:16.5px;line-height:16.5px;color:#969696;font-weight:normal;font-family:'Liberation Sans',sans-serif;font-style:normal;letter-spacing:0px;transform:scaleX(1.1300);transform-origin:0 0;">455050</div>
<div class="t" style="left:1443.3px;top:790.9px;font-size:16.5px;line-height:16.5px;color:#969696;font-weight:normal;font-family:'Liberation Sans',sans-serif;font-style:normal;letter-spacing:0px;transform:scaleX(1.1300);transform-origin:0 0;">1</div>
<div class="t" style="left:1586.8px;top:790.9px;font-size:16.5px;line-height:16.5px;color:#969696;font-weight:normal;font-family:'Liberation Sans',sans-serif;font-style:normal;letter-spacing:0px;transform:scaleX(1.1300);transform-origin:0 0;">2024-03-22 16:14:50</div>
<div class="t" style="left:884.3px;top:821.2px;font-size:16.5px;line-height:16.5px;color:#969696;font-weight:normal;font-family:'Liberation Sans',sans-serif;font-style:normal;letter-spacing:0px;transform:scaleX(1.1300);transform-origin:0 0;">27</div>
<div class="t" style="left:1044.4px;top:821.2px;font-size:16.5px;line-height:16.5px;color:#969696;font-weight:normal;font-family:'Liberation Sans',sans-serif;font-style:normal;letter-spacing:0px;transform:scaleX(1.1300);transform-origin:0 0;">660076</div>
<div class="t" style="left:1233.0px;top:821.2px;font-size:16.5px;line-height:16.5px;color:#969696;font-weight:normal;font-family:'Liberation Sans',sans-serif;font-style:normal;letter-spacing:0px;transform:scaleX(1.1300);transform-origin:0 0;">660075</div>
<div class="t" style="left:1443.3px;top:821.2px;font-size:16.5px;line-height:16.5px;color:#969696;font-weight:normal;font-family:'Liberation Sans',sans-serif;font-style:normal;letter-spacing:0px;transform:scaleX(1.1300);transform-origin:0 0;">1</div>
<div class="t" style="left:1586.8px;top:821.2px;font-size:16.5px;line-height:16.5px;color:#969696;font-weight:normal;font-family:'Liberation Sans',sans-serif;font-style:normal;letter-spacing:0px;transform:scaleX(1.1300);transform-origin:0 0;">2024-03-22 16:41:17</div>
<div class="t" style="left:884.3px;top:851.5px;font-size:16.5px;line-height:16.5px;color:#969696;font-weight:normal;font-family:'Liberation Sans',sans-serif;font-style:normal;letter-spacing:0px;transform:scaleX(1.1300);transform-origin:0 0;">27</div>
<div class="t" style="left:1044.4px;top:851.5px;font-size:16.5px;line-height:16.5px;color:#969696;font-weight:normal;font-family:'Liberation Sans',sans-serif;font-style:normal;letter-spacing:0px;transform:scaleX(1.1300);transform-origin:0 0;">660040</div>
<div class="t" style="left:1233.0px;top:851.5px;font-size:16.5px;line-height:16.5px;color:#969696;font-weight:normal;font-family:'Liberation Sans',sans-serif;font-style:normal;letter-spacing:0px;transform:scaleX(1.1300);transform-origin:0 0;">660039</div>
<div class="t" style="left:1443.3px;top:851.5px;font-size:16.5px;line-height:16.5px;color:#969696;font-weight:normal;font-family:'Liberation Sans',sans-serif;font-style:normal;letter-spacing:0px;transform:scaleX(1.1300);transform-origin:0 0;">1</div>
<div class="t" style="left:1586.8px;top:851.5px;font-size:16.5px;line-height:16.5px;color:#969696;font-weight:normal;font-family:'Liberation Sans',sans-serif;font-style:normal;letter-spacing:0px;transform:scaleX(1.1300);transform-origin:0 0;">2024-03-22 16:41:32</div>
<div class="t" style="left:884.3px;top:881.7px;font-size:16.5px;line-height:16.5px;color:#969696;font-weight:normal;font-family:'Liberation Sans',sans-serif;font-style:normal;letter-spacing:0px;transform:scaleX(1.1300);transform-origin:0 0;">27</div>
<div class="t" style="left:1044.4px;top:881.7px;font-size:16.5px;line-height:16.5px;color:#969696;font-weight:normal;font-family:'Liberation Sans',sans-serif;font-style:normal;letter-spacing:0px;transform:scaleX(1.1300);transform-origin:0 0;">660036</div>
<div class="t" style="left:1233.0px;top:881.7px;font-size:16.5px;line-height:16.5px;color:#969696;font-weight:normal;font-family:'Liberation Sans',sans-serif;font-style:normal;letter-spacing:0px;transform:scaleX(1.1300);transform-origin:0 0;">660035</div>
<div class="t" style="left:1443.3px;top:881.7px;font-size:16.5px;line-height:16.5px;color:#969696;font-weight:normal;font-family:'Liberation Sans',sans-serif;font-style:normal;letter-spacing:0px;transform:scaleX(1.1300);transform-origin:0 0;">1</div>
<div class="t" style="left:1586.8px;top:881.7px;font-size:16.5px;line-height:16.5px;color:#969696;font-weight:normal;font-family:'Liberation Sans',sans-serif;font-style:normal;letter-spacing:0px;transform:scaleX(1.1300);transform-origin:0 0;">2024-03-22 16:41:35</div>
<div class="t" style="left:884.3px;top:912.0px;font-size:16.5px;line-height:16.5px;color:#969696;font-weight:normal;font-family:'Liberation Sans',sans-serif;font-style:normal;letter-spacing:0px;transform:scaleX(1.1300);transform-origin:0 0;">32</div>
<div class="t" style="left:1044.4px;top:912.0px;font-size:16.5px;line-height:16.5px;color:#969696;font-weight:normal;font-family:'Liberation Sans',sans-serif;font-style:normal;letter-spacing:0px;transform:scaleX(1.1300);transform-origin:0 0;">775049</div>
<div class="t" style="left:1233.0px;top:912.0px;font-size:16.5px;line-height:16.5px;color:#969696;font-weight:normal;font-family:'Liberation Sans',sans-serif;font-style:normal;letter-spacing:0px;transform:scaleX(1.1300);transform-origin:0 0;">775048</div>
<div class="t" style="left:1443.3px;top:912.0px;font-size:16.5px;line-height:16.5px;color:#969696;font-weight:normal;font-family:'Liberation Sans',sans-serif;font-style:normal;letter-spacing:0px;transform:scaleX(1.1300);transform-origin:0 0;">1</div>
<div class="t" style="left:1586.8px;top:912.0px;font-size:16.5px;line-height:16.5px;color:#969696;font-weight:normal;font-family:'Liberation Sans',sans-serif;font-style:normal;letter-spacing:0px;transform:scaleX(1.1300);transform-origin:0 0;">2024-03-22 16:56:49</div>
<div class="t" style="left:884.3px;top:942.3px;font-size:16.5px;line-height:16.5px;color:#969696;font-weight:normal;font-family:'Liberation Sans',sans-serif;font-style:normal;letter-spacing:0px;transform:scaleX(1.1300);transform-origin:0 0;">32</div>
<div class="t" style="left:1044.4px;top:942.3px;font-size:16.5px;line-height:16.5px;color:#969696;font-weight:normal;font-family:'Liberation Sans',sans-serif;font-style:normal;letter-spacing:0px;transform:scaleX(1.1300);transform-origin:0 0;">775047</div>
<div class="t" style="left:1233.0px;top:942.3px;font-size:16.5px;line-height:16.5px;color:#969696;font-weight:normal;font-family:'Liberation Sans',sans-serif;font-style:normal;letter-spacing:0px;transform:scaleX(1.1300);transform-origin:0 0;">775046</div>
<div class="t" style="left:1443.3px;top:942.3px;font-size:16.5px;line-height:16.5px;color:#969696;font-weight:normal;font-family:'Liberation Sans',sans-serif;font-style:normal;letter-spacing:0px;transform:scaleX(1.1300);transform-origin:0 0;">1</div>
<div class="t" style="left:1586.8px;top:942.3px;font-size:16.5px;line-height:16.5px;color:#969696;font-weight:normal;font-family:'Liberation Sans',sans-serif;font-style:normal;letter-spacing:0px;transform:scaleX(1.1300);transform-origin:0 0;">2024-03-22 16:56:50</div>
<div class="t" style="left:884.8px;top:972.5px;font-size:16.5px;line-height:16.5px;color:#969696;font-weight:normal;font-family:'Liberation Sans',sans-serif;font-style:normal;letter-spacing:0px;transform:scaleX(1.1300);transform-origin:0 0;">40</div>
<div class="t" style="left:1044.4px;top:972.5px;font-size:16.5px;line-height:16.5px;color:#969696;font-weight:normal;font-family:'Liberation Sans',sans-serif;font-style:normal;letter-spacing:0px;transform:scaleX(1.1300);transform-origin:0 0;">990001</div>
<div class="t" style="left:1233.0px;top:972.5px;font-size:16.5px;line-height:16.5px;color:#969696;font-weight:normal;font-family:'Liberation Sans',sans-serif;font-style:normal;letter-spacing:0px;transform:scaleX(1.1300);transform-origin:0 0;">995100</div>
<div class="t" style="left:1443.3px;top:972.5px;font-size:16.5px;line-height:16.5px;color:#969696;font-weight:normal;font-family:'Liberation Sans',sans-serif;font-style:normal;letter-spacing:0px;transform:scaleX(1.1300);transform-origin:0 0;">1</div>
<div class="t" style="left:1586.8px;top:972.5px;font-size:16.5px;line-height:16.5px;color:#969696;font-weight:normal;font-family:'Liberation Sans',sans-serif;font-style:normal;letter-spacing:0px;transform:scaleX(1.1300);transform-origin:0 0;">2024-03-22 17:25:00</div>
<div class="t" style="left:1055.0px;top:1004.1px;font-size:17px;line-height:17px;color:#555555;font-weight:bold;font-family:'Liberation Sans',sans-serif;font-style:normal;letter-spacing:0px;transform:scaleX(1.1737);transform-origin:0 0;">Total</div>
<div class="t" style="left:1437.5px;top:1004.1px;font-size:17px;line-height:17px;color:#555555;font-weight:bold;font-family:'Liberation Sans',sans-serif;font-style:normal;letter-spacing:0px;transform:scaleX(1.1333);transform-origin:0 0;">12</div>
</div></body></html>
